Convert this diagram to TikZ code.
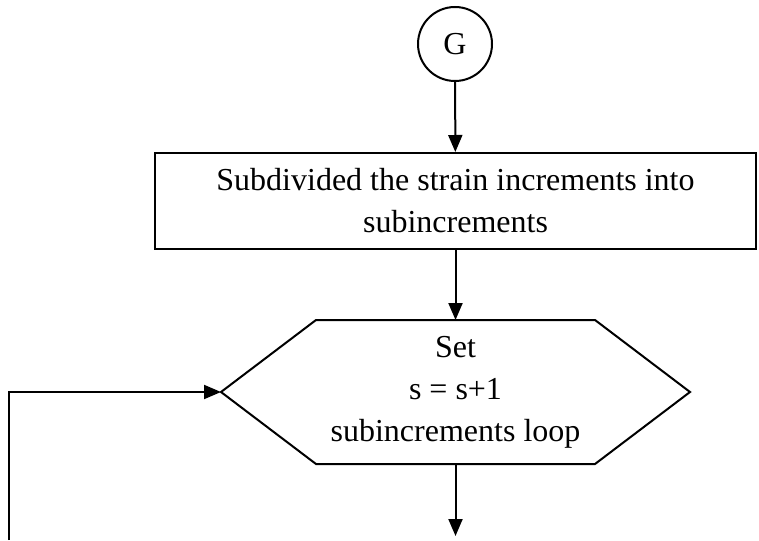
\documentclass[tikz,border=0pt]{standalone}
\usepackage{fontspec}
\setmainfont{Liberation Serif}
\usetikzlibrary{arrows.meta}

\begin{document}
\begin{tikzpicture}
  [x=1pt,y=-1pt,line width=2pt,>={Triangle[length=17pt,width=14pt]},
   every node/.style={font=\fontsize{32}{42}\selectfont,align=center,inner sep=0pt},
   conn/.style={draw,circle,minimum size=74pt},
   procbox/.style={draw,rectangle,minimum width=601pt,minimum height=96pt},
   prepbox/.style={minimum width=467pt,minimum height=142pt}]
\useasboundingbox (0,0) rectangle (759,540);
  \node[conn] (g) at (455,44) {G};
  \node[procbox] (sub) at (455.5,201) {Subdivided the strain increments into\\subincrements};
  \node[prepbox] (loop) at (455.5,392) {Set\\s = s+1\\subincrements loop};
  \coordinate (out) at (455.5,536);
  \coordinate (back) at (9,540);

  % hexagon outline
  \draw (loop.west) -- ([xshift=95pt]loop.north west) -- ([xshift=-95pt]loop.north east)
    -- (loop.east) -- ([xshift=-95pt]loop.south east) -- ([xshift=95pt]loop.south west) -- cycle;

  \foreach \from/\to in {g/sub, sub/loop, loop/out}
    \draw[->] (\from) -- (\to);

  \draw[->] (back) |- (loop.west);
\end{tikzpicture}
\end{document}
